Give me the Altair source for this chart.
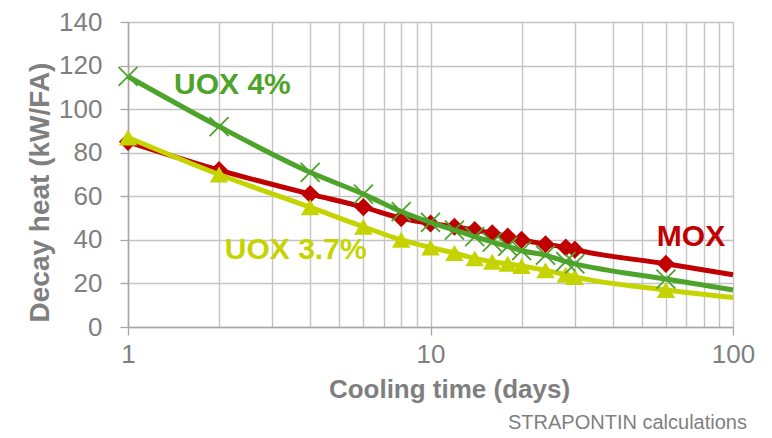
import altair as alt
import pandas as pd

# ---- data ----
days = [1, 2, 4, 6, 8, 10, 12, 14, 16, 18, 20, 24, 28, 30, 60]
mox = [85, 72, 61, 55, 50, 47.5, 46, 44.5, 43, 41.5, 40, 38, 36.5, 35.5, 29]
uox4 = [115, 92, 71, 61, 53, 48, 44.5, 41.5, 39, 37, 35, 33, 30, 29, 22]
uox37 = [87, 70, 55, 46, 40, 36.5, 34, 31.5, 30, 29, 28, 26, 24, 23, 17]

# curve continues (without markers) to day 100
end_day = 100
mox_end = 24
uox4_end = 17
uox37_end = 13.5

series_names = ["MOX", "UOX 3.7%", "UOX 4%"]
series_colors = ["#C00000", "#C5D400", "#4EA32B"]

label_text = ["UOX 4%", "MOX", "UOX 3.7%"]
label_day = [1.42, 56, 2.09]
label_val = [111, 41.5, 35.3]

grid_days = [1, 2, 3, 4, 5, 6, 7, 8, 9, 10, 20, 30, 40, 50, 60, 70, 80, 90, 100]
y_ticks = [0, 20, 40, 60, 80, 100, 120, 140]

# ---- tables ----
vals = {"MOX": (mox, mox_end), "UOX 3.7%": (uox37, uox37_end), "UOX 4%": (uox4, uox4_end)}
line_rows, pt_rows = [], []
for name in series_names:
    v, e = vals[name]
    for d, y in zip(days, v):
        line_rows.append({"series": name, "day": d, "heat": y})
        pt_rows.append({"series": name, "day": d, "heat": y})
    line_rows.append({"series": name, "day": end_day, "heat": e})
lines_df = pd.DataFrame(line_rows)
pts_df = pd.DataFrame(pt_rows)
labels_df = pd.DataFrame({"text": label_text, "day": label_day, "heat": label_val,
                          "series": ["UOX 4%", "MOX", "UOX 3.7%"]})

FONT = "Liberation Sans"
GRAY = "#7F7F7F"
major_test = "indexof([1,10,100], datum.value) >= 0"

xscale = alt.Scale(type="log", domain=[1, 100], nice=False)
yscale = alt.Scale(domain=[0, 140], nice=False)
cscale = alt.Scale(domain=series_names, range=series_colors)

x_axis = alt.Axis(
    values=grid_days, format="~g",
    labelExpr=f"{major_test} ? datum.label : ''",
    labelOverlap=False, labelFont=FONT, labelFontSize=26, labelColor=GRAY,
    labelPadding=6, labelFlush=False,
    tickOpacity={"condition": {"test": major_test, "value": 1}, "value": 0},
    tickSize=8, tickColor="#A6A6A6", tickWidth=1.3,
    domainColor="#A6A6A6", domainWidth=1.5,
    grid=True, gridColor="#C4C4C4", gridWidth=1.4,
    title="Cooling time (days)", titleFont=FONT, titleFontSize=26,
    titleFontWeight="bold", titleColor=GRAY, titleX=321, titleY=62,
    titleBaseline="middle", titleAlign="center",
)
y_axis = alt.Axis(
    values=y_ticks,
    labelFont=FONT, labelFontSize=26, labelColor=GRAY, labelPadding=18,
    tickSize=8, tickColor="#A6A6A6", tickWidth=1.3,
    domainColor="#A6A6A6", domainWidth=1.5,
    grid=True, gridColor="#C4C4C4", gridWidth=1.4,
    title="Decay heat (kW/FA)", titleFont=FONT, titleFontSize=28,
    titleFontWeight="bold", titleColor=GRAY, titleX=-88, titleY=170,
    titleBaseline="middle", titleAlign="center", titleAngle=-90,
)

X = alt.X("day:Q", scale=xscale, axis=x_axis)
Y = alt.Y("heat:Q", scale=yscale, axis=y_axis)
C = alt.Color("series:N", scale=cscale, legend=None)

layers = []
marker_spec = {
    "MOX": dict(shape="diamond", size=330, filled=True),
    "UOX 3.7%": dict(shape="triangle-up", size=340, filled=True),
    "UOX 4%": dict(shape="M-1,-1L1,1M-1,1L1,-1", size=360, filled=False, strokeWidth=1.8),
}
for name in series_names:
    ln = alt.Chart(lines_df).transform_filter(alt.datum.series == name).mark_line(
        interpolate="monotone", strokeWidth=5
    ).encode(x=X, y=Y, color=C)
    pt = alt.Chart(pts_df).transform_filter(alt.datum.series == name).mark_point(
        opacity=1, **marker_spec[name]
    ).encode(x=X, y=Y, color=C)
    layers += [ln, pt]

labels = alt.Chart(labels_df).mark_text(
    font=FONT, fontSize=30, fontWeight="bold", align="left", baseline="middle"
).encode(x=X, y=Y, text="text:N", color=C)

note = alt.Chart(pd.DataFrame({"t": ["STRAPONTIN calculations"]})).mark_text(
    font=FONT, fontSize=20, color=GRAY, align="right", baseline="middle"
).encode(x=alt.value(619), y=alt.value(401), text="t:N")

chart = alt.layer(*layers, labels, note).properties(
    width=605, height=305,
    autosize=alt.AutoSizeParams(type="none"),
    padding={"left": 120, "top": 14, "right": 30, "bottom": 110},
).configure_view(stroke=None)

chart.save("out.html", embed_options={"renderer": "svg", "actions": False})
